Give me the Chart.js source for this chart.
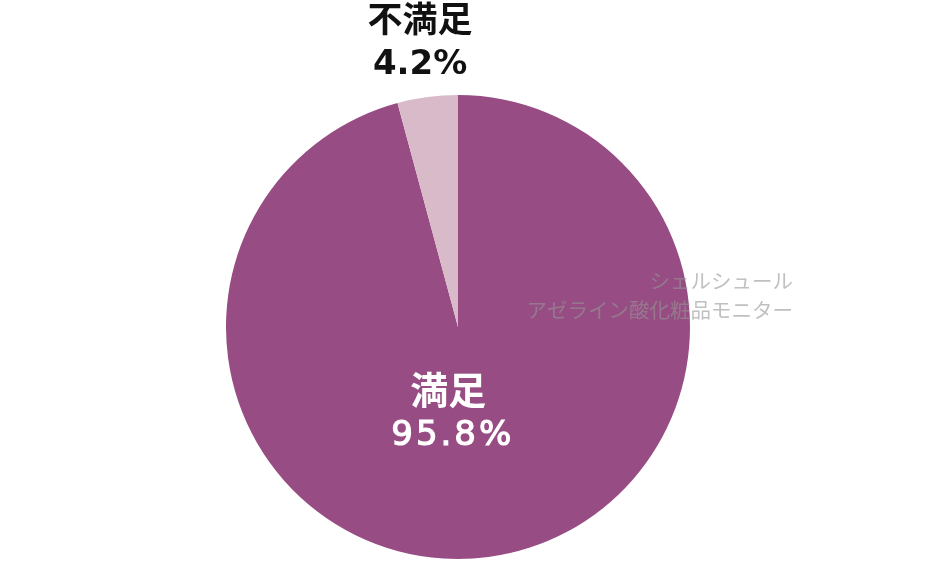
<!DOCTYPE html>
<html><head><meta charset="utf-8">
<script src="https://cdn.jsdelivr.net/npm/chart.js@4"></script>
<style>html,body{margin:0;padding:0;background:#fff}#wrap{width:940px;height:574px;position:relative}</style>
</head><body><div id="wrap"><canvas id="c" width="940" height="574"></canvas></div>
<script>
const categories = ["満足", "不満足"];
const values = [95.8, 4.2];
const colors = ["#974c83", "#d9bac9"];
const watermark = ["シェルシュール", "アゼライン酸化粧品モニター"];

const labelPlugin = {
  id: 'labels',
  afterDatasetsDraw(chart) {
    const ctx = chart.ctx;
    const meta = chart.getDatasetMeta(0);
    meta.data.forEach((arc, i) => {
      const mid = (arc.startAngle + arc.endAngle) / 2;
      const inside = i === 0;
      const r = inside ? arc.outerRadius * 0.37 : arc.outerRadius + 56;
      const x = arc.x + Math.cos(mid) * r - (inside ? 21 : 0);
      const y = arc.y + Math.sin(mid) * r;
      ctx.save();
      ctx.textAlign = 'center';
      ctx.textBaseline = 'middle';
      const col = inside ? '#ffffff' : '#111111';
      ctx.fillStyle = col;
      ctx.strokeStyle = col;
      ctx.font = 'bold ' + (inside ? 38 : 35) + 'px "Noto Sans CJK JP", sans-serif';
      ctx.fillText(categories[i], x, y - 23);
      const t = values[i].toFixed(1) + '%';
      ctx.font = (inside ? '' : 'bold ') + '34px "DejaVu Sans", sans-serif';
      if (inside) {
        ctx.letterSpacing = '3px';
        const xx = x + 1.5 + 3;
        ctx.fillText(t, xx, y + 24);
        ctx.lineWidth = 1.2; ctx.strokeText(t, xx, y + 24);
      } else {
        ctx.fillText(t, x, y + 24);
      }
      ctx.restore();
    });
    ctx.save();
    ctx.textAlign = 'right';
    ctx.textBaseline = 'middle';
    ctx.fillStyle = 'rgba(150,150,150,0.6)';
    ctx.font = '20.5px "Noto Sans CJK JP", sans-serif';
    ctx.fillText(watermark[0], 793, 281);
    ctx.fillText(watermark[1], 793, 310);
    ctx.restore();
  }
};

new Chart(document.getElementById('c'), {
  type: 'pie',
  data: { labels: categories, datasets: [{ data: values, backgroundColor: colors, borderWidth: 0 }] },
  options: {
    responsive: false, animation: false, devicePixelRatio: 1,
    layout: { padding: { top: 95, bottom: 15, left: 0, right: 24 } },
    plugins: { legend: { display: false }, tooltip: { enabled: false } }
  },
  plugins: [labelPlugin]
});
</script></body></html>
